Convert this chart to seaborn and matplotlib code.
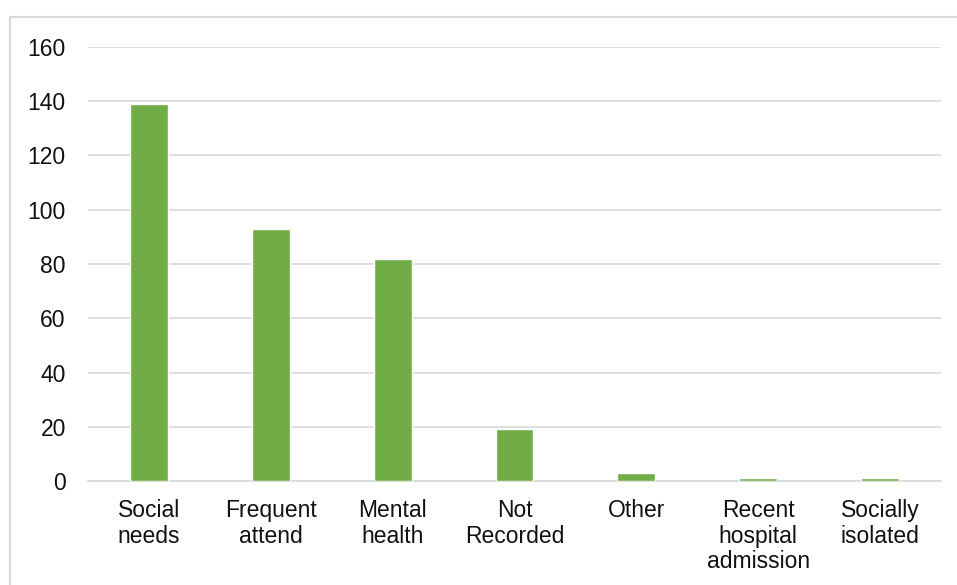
import matplotlib
matplotlib.use("Agg")
import matplotlib.pyplot as plt
import seaborn as sns
import pandas as pd
from matplotlib.patches import Rectangle

categories = ["Social\nneeds", "Frequent\nattend", "Mental\nhealth", "Not\nRecorded",
              "Other", "Recent\nhospital\nadmission", "Socially\nisolated"]
counts = [139, 93, 82, 19, 3, 1, 1]
y_ticks = [0, 20, 40, 60, 80, 100, 120, 140, 160]

sns.set_theme(style="white")
plt.rcParams['font.family'] = ['Liberation Sans', 'DejaVu Sans']

df = pd.DataFrame({'category': categories, 'count': counts})

fig = plt.figure(figsize=(9.57, 5.85), dpi=100)
ax = fig.add_axes([88 / 957, 1 - 481 / 585, (941 - 88) / 957, (481 - 47) / 585])

sns.barplot(data=df, x='category', y='count', color='#70AD47', width=0.31,
            saturation=1, ax=ax, zorder=3)

ax.set_ylim(0, 160)
ax.set_yticks(y_ticks)
ax.yaxis.grid(True, color='#D9D9D9', linewidth=1.2, zorder=0)
ax.set_axisbelow(True)
for s in ['top', 'right', 'left']:
    ax.spines[s].set_visible(False)
ax.spines['bottom'].set_color('#D9D9D9')
ax.spines['bottom'].set_linewidth(1.2)
ax.set_xlabel('')
ax.set_ylabel('')
ax.tick_params(axis='y', length=0, pad=16, labelsize=16.5, labelcolor='#111111')
ax.tick_params(axis='x', length=0, pad=13, labelsize=16.5, labelcolor='#111111')
for lbl in ax.get_xticklabels():
    lbl.set_linespacing(1.15)
    lbl.set_va('top')

# outer chart border, like the spreadsheet chart area
fig.patches.append(Rectangle((10 / 957, -0.1), 1.1, 1 - 17 / 585 + 0.1,
                             transform=fig.transFigure, fill=False,
                             edgecolor='#D9D9D9', linewidth=1.5))

fig.savefig('out.png', dpi=100)
plt.close(fig)
